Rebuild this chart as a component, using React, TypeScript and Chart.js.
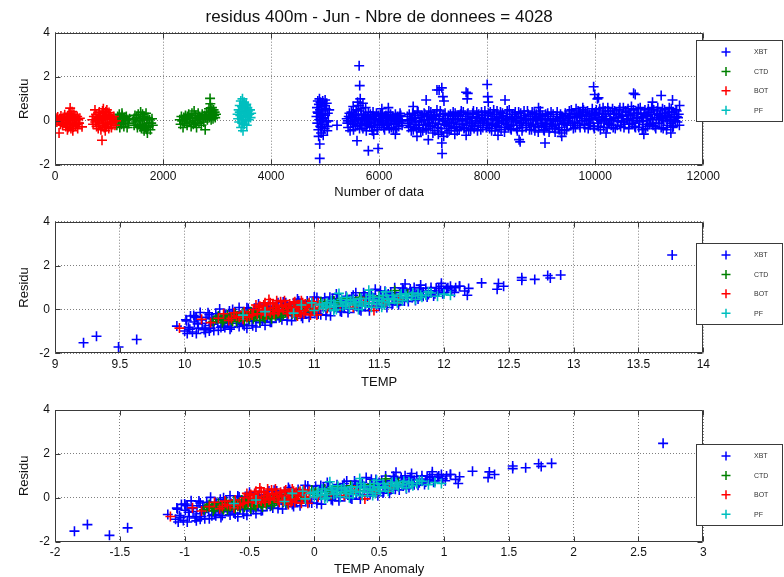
import React, { useEffect, useRef } from "react";
import { Chart, registerables } from "chart.js";

Chart.register(...registerables);

// ---------------- data ----------------
const CHART_TITLE = "residus 400m - Jun - Nbre de donnees = 4028";
const SERIES_NAMES = ["XBT", "CTD", "BOT", "PF"];
const SERIES_COLORS = ["#0000ff", "#008000", "#ff0000", "#00bfbf"];
const Y_TITLE = "Residu";
const Y_TICKS = [-2, 0, 2, 4];
const X_TITLES = ["Number of data", "TEMP", "TEMP Anomaly"];
// climatological temperature at 400m used for the anomaly panel
const TEMP_CLIMATOLOGY = 11.07;

// residu vs data number
const xbtByIndex: [number, number][] = [
  [4840, 0.2], [4850, 0.6], [4855, -0.1], [4865, 0.9], [4870, 0.35], [4875, -0.4], [4885, 0.75], [4890, 0.05],
  [4895, 1.0], [4900, -1.05], [4900, -1.7], [4905, 0.5], [4910, -0.25], [4915, 0.85], [4920, 0.15], [4925, -0.55],
  [4935, 0.65], [4940, 0.3], [4945, -0.15], [4955, 0.9], [4960, 0.45], [4965, -0.65], [4975, 0.1], [4985, 0.7],
  [4990, -0.35], [5000, 0.25], [5010, 0.55], [5020, -0.05], [5030, 0.8], [5040, -0.45], [5050, 0.35], [5060, 0.0],
  [5075, 0.5], [4880, -0.7], [4950, 0.0], [5000, 0.95], [5045, -0.25], [4860, 0.4], [4930, -0.3], [5220, -0.2],
  [5400, 0.1], [5425, -0.3], [5450, 0.35], [5475, -0.05], [5500, 0.2], [5525, -0.4], [5550, 0.05], [5575, 0.5],
  [5600, -0.2], [5625, 0.7], [5650, -0.1], [5675, 0.3], [5700, -0.35], [5725, 0.0], [5750, 0.25], [5775, -0.15],
  [5800, 0.4], [5825, -0.25], [5850, 0.1], [5875, -0.45], [5900, 0.2], [5925, -0.05], [5950, 0.35], [5975, -0.3],
  [6000, 0.05], [6025, 0.3], [6050, -0.2], [6075, 0.15], [6100, -0.4], [6125, 0.25], [6150, -0.1], [6175, 0.4],
  [6200, 0.0], [6225, -0.3], [6250, 0.2], [6275, -0.15], [6300, 0.3], [6325, -0.35], [6350, 0.1], [6375, -0.05],
  [6400, 0.25], [6425, -0.2],
  [5412, -0.1], [5437, 0.2], [5462, -0.45], [5487, 0.4], [5512, 0.0], [5537, 0.3], [5562, -0.25], [5587, 0.15],
  [5612, 0.45], [5637, -0.35], [5662, 0.55], [5687, 0.05], [5712, 0.3], [5737, -0.2], [5762, -0.45], [5787, 0.15],
  [5812, -0.05], [5837, 0.3], [5862, -0.3], [5887, 0.4], [5912, -0.2], [5937, 0.1], [5962, -0.4], [5987, 0.25],
  [6012, -0.15], [6037, 0.0], [6062, 0.35], [6087, -0.3], [6112, 0.1], [6137, -0.2], [6162, 0.15], [6187, -0.35],
  [6212, 0.3], [6237, 0.05], [6262, -0.4], [6287, 0.1], [6312, 0.0], [6337, 0.2], [6362, -0.25], [6387, 0.35], [6412, 0.0],
  [5420, 0.0], [5470, 0.15], [5520, -0.15], [5570, 0.25], [5620, 0.1], [5670, -0.2], [5720, 0.15], [5770, 0.05],
  [5820, -0.1], [5870, 0.2], [5920, 0.05], [5970, -0.15], [6020, 0.1], [6070, -0.05], [6120, 0.2], [6170, -0.15],
  [6220, 0.05], [6270, 0.15], [6320, -0.1], [6370, 0.2], [6420, 0.05],
  [5630, 2.5], [5640, 1.6], [5650, 1.0], [5600, 0.85], [5700, 0.8], [5590, -0.9], [5800, -1.35], [5980, -1.25],
  [6170, 0.6], [6300, -0.6], [5520, 0.65], [5750, 0.6], [5900, -0.6], [6050, 0.55],
  [6520, 0.2], [6545, -0.3], [6570, 0.05], [6595, -0.45], [6620, 0.35], [6645, -0.15], [6670, 0.1], [6695, -0.35],
  [6720, 0.4], [6745, -0.05], [6770, -0.5], [6795, 0.25], [6820, -0.2], [6845, 0.3], [6870, -0.4], [6895, 0.05],
  [6920, 0.45], [6945, -0.25], [6970, 0.15], [6995, -0.55], [7020, 0.3], [7045, -0.1], [7070, 0.5], [7095, -0.6],
  [7120, 0.2], [7145, -0.35], [7170, 0.0], [7195, -0.7], [7220, 0.35], [7245, -0.2], [7270, 0.1], [7295, -0.45],
  [7320, 0.3], [7345, -0.1], [7370, 0.4], [7395, -0.3], [7420, 0.05], [7445, -0.45], [7470, 0.25], [7495, -0.15],
  [7520, 0.45], [7545, 0.0], [7570, -0.35], [7595, 0.2], [7620, -0.2], [7645, 0.35], [7670, -0.05], [7695, -0.4],
  [7720, 0.15], [7745, 0.45], [7770, -0.25], [7795, 0.1], [7820, -0.45], [7845, 0.3], [7870, -0.1], [7895, 0.4],
  [7920, -0.3], [7945, 0.05], [7970, 0.25], [7995, -0.2],
  [8020, 0.35], [8045, -0.35], [8070, 0.1], [8095, -0.15], [8120, 0.5], [8145, -0.45], [8170, 0.2], [8195, 0.0],
  [8220, -0.3], [8245, 0.4], [8270, -0.1], [8295, 0.25], [8320, -0.5], [8345, 0.05], [8370, 0.45], [8395, -0.25],
  [8420, 0.15], [8445, -0.4], [8470, 0.3], [8495, -0.05], [8520, 0.4], [8545, -0.35], [8570, 0.1], [8595, -0.2],
  [8620, 0.35], [8645, -0.45], [8670, 0.0], [8695, 0.25], [8720, -0.3], [8745, 0.45], [8770, -0.1], [8795, 0.2],
  [8820, -0.4], [8845, 0.05], [8870, 0.35], [8895, -0.25], [8920, 0.15], [8945, -0.5], [8970, 0.3], [8995, -0.1],
  [9020, 0.25], [9045, -0.4], [9070, 0.05], [9095, -0.25], [9120, 0.35], [9145, -0.5], [9170, 0.1], [9195, -0.15],
  [9220, 0.3], [9245, -0.35], [9270, 0.0], [9295, 0.4], [9320, -0.3], [9345, 0.15], [9370, -0.55], [9395, 0.2],
  [9420, -0.1], [9445, 0.35], [9470, -0.4], [9495, 0.1],
  [9520, 0.45], [9545, -0.2], [9570, 0.3], [9595, -0.35], [9620, 0.15], [9645, 0.55], [9670, -0.1], [9695, 0.35],
  [9720, -0.3], [9745, 0.2], [9770, 0.6], [9795, -0.15], [9820, 0.4], [9845, 0.0], [9870, -0.35], [9895, 0.3],
  [9920, 0.1], [9945, 0.55], [9970, -0.25], [9995, 0.25], [10020, 0.5], [10045, -0.1], [10070, 0.35], [10095, -0.4],
  [10120, 0.15], [10145, 0.6], [10170, -0.05], [10195, 0.3], [10220, -0.3], [10245, 0.45], [10270, 0.05], [10295, -0.2],
  [10320, 0.55], [10345, 0.1], [10370, -0.35], [10395, 0.35], [10420, 0.0], [10445, 0.5], [10470, -0.25], [10495, 0.2],
  [10520, 0.6], [10545, -0.15], [10570, 0.4], [10595, 0.05], [10620, -0.35], [10645, 0.3], [10670, 0.65], [10695, -0.1],
  [10720, 0.35], [10745, -0.3], [10770, 0.15], [10795, 0.55], [10820, -0.05], [10845, 0.3], [10870, -0.4], [10895, 0.2],
  [10920, 0.5], [10945, 0.0], [10970, -0.25], [10995, 0.4], [11020, 0.1], [11045, 0.6], [11070, -0.2], [11095, 0.3],
  [11120, -0.35], [11145, 0.45], [11170, 0.05], [11195, 0.25], [11220, -0.3], [11245, 0.55], [11270, 0.0], [11295, 0.35],
  [11320, -0.4], [11345, 0.2], [11370, 0.6], [11395, -0.1], [11420, 0.4], [11445, -0.25], [11470, 0.15], [11495, 0.5],
  [11520, -0.05], [11545, 0.3], [11560, 0.7],
  [6532, -0.1], [6557, 0.3], [6582, -0.25], [6607, 0.1], [6632, -0.4], [6657, 0.25], [6682, -0.05], [6707, 0.45],
  [6732, -0.3], [6757, 0.15], [6782, 0.0], [6807, -0.45], [6832, 0.35], [6857, -0.15], [6882, 0.2], [6907, -0.35],
  [6932, 0.05], [6957, 0.4], [6982, -0.2], [7007, 0.1], [7032, -0.45], [7057, 0.25], [7082, -0.3], [7107, 0.05],
  [7132, 0.45], [7157, -0.5], [7182, 0.3], [7207, -0.15], [7232, 0.0], [7257, -0.55], [7282, 0.25], [7307, -0.1],
  [7332, -0.35], [7357, 0.2], [7382, -0.05], [7407, 0.35], [7432, -0.25], [7457, 0.1], [7482, -0.4], [7507, 0.3],
  [7532, -0.15], [7557, 0.4], [7582, -0.3], [7607, 0.05], [7632, 0.3], [7657, -0.45], [7682, 0.2], [7707, -0.1],
  [7732, 0.35], [7757, -0.35], [7782, 0.0], [7807, 0.4], [7832, -0.2], [7857, 0.1], [7882, -0.4], [7907, 0.25],
  [7932, -0.05], [7957, 0.45], [7982, -0.3],
  [8007, 0.1], [8032, -0.2], [8057, 0.4], [8082, -0.45], [8107, 0.05], [8132, 0.3], [8157, -0.25], [8182, 0.45],
  [8207, -0.1], [8232, 0.15], [8257, -0.4], [8282, 0.35], [8307, 0.0], [8332, -0.3], [8357, 0.2], [8382, -0.15],
  [8407, 0.5], [8432, -0.35], [8457, 0.1], [8482, -0.2], [8507, 0.3], [8532, 0.0], [8557, -0.45], [8582, 0.4],
  [8607, -0.1], [8632, 0.15], [8657, -0.3], [8682, 0.45], [8707, 0.05], [8732, -0.2], [8757, 0.3], [8782, -0.4],
  [8807, 0.1], [8832, 0.4], [8857, -0.15], [8882, -0.45], [8907, 0.3], [8932, 0.0], [8957, -0.3], [8982, 0.45],
  [9007, -0.2], [9032, 0.1], [9057, -0.45], [9082, 0.3], [9107, -0.1], [9132, 0.2], [9157, -0.35], [9182, 0.4],
  [9207, -0.25], [9232, 0.05], [9257, -0.5], [9282, 0.2], [9307, 0.0], [9332, -0.4], [9357, 0.3], [9382, -0.15],
  [9407, 0.1], [9432, -0.45], [9457, 0.25], [9482, -0.2], [9507, 0.0],
  [9532, 0.15], [9557, 0.5], [9582, -0.1], [9607, 0.35], [9632, -0.3], [9657, 0.2], [9682, 0.45], [9707, -0.2],
  [9732, 0.3], [9757, 0.0], [9782, 0.5], [9807, -0.3], [9832, 0.2], [9857, 0.45], [9882, 0.05], [9907, -0.2],
  [9932, 0.35], [9957, 0.1], [9982, -0.35], [10007, 0.4], [10032, 0.15], [10057, -0.25], [10082, 0.55], [10107, 0.0],
  [10132, 0.3], [10157, -0.3], [10182, 0.45], [10207, 0.1], [10232, 0.6], [10257, -0.15], [10282, 0.35], [10307, 0.0],
  [10332, -0.3], [10357, 0.45], [10382, 0.15], [10407, -0.2], [10432, 0.3], [10457, 0.6], [10482, -0.05], [10507, 0.25],
  [10532, -0.3], [10557, 0.45], [10582, 0.1], [10607, 0.55], [10632, -0.15], [10657, 0.25], [10682, 0.0], [10707, 0.5],
  [10732, -0.25], [10757, 0.35], [10782, 0.1], [10807, -0.3], [10832, 0.6], [10857, 0.15], [10882, -0.15], [10907, 0.35],
  [10932, -0.35], [10957, 0.25], [10982, 0.55], [11007, -0.15], [11032, 0.3], [11057, 0.05], [11082, 0.5], [11107, -0.25],
  [11132, 0.15], [11157, 0.6], [11182, -0.1], [11207, 0.35], [11232, 0.1], [11257, -0.35], [11282, 0.5], [11307, 0.15],
  [11332, -0.2], [11357, 0.4], [11382, 0.05], [11407, 0.55], [11432, -0.3], [11457, 0.3], [11482, 0.0], [11507, 0.45],
  [11532, 0.15], [11557, -0.2],
  [6560, 0.0], [6650, 0.15], [6740, -0.2], [6830, 0.05], [6920, -0.1], [7010, 0.2], [7100, -0.15], [7190, 0.1],
  [7280, -0.25], [7370, 0.05], [7460, 0.2], [7550, -0.15], [7640, 0.1], [7730, -0.2], [7820, 0.15], [7910, 0.0],
  [8000, -0.1], [8090, 0.2], [8180, -0.2], [8270, 0.1], [8360, -0.15], [8450, 0.05], [8540, 0.2], [8630, -0.1],
  [8720, 0.1], [8810, -0.2], [8900, 0.05], [8990, 0.2], [9080, -0.15], [9170, 0.0], [9260, -0.2], [9350, 0.1],
  [9440, -0.1], [9530, 0.2], [9620, -0.05], [9710, 0.25], [9800, 0.1], [9890, -0.1], [9980, 0.3], [10070, 0.05],
  [10160, 0.2], [10250, -0.1], [10340, 0.3], [10430, 0.15], [10520, -0.05], [10610, 0.25], [10700, 0.1], [10790, 0.35],
  [10880, 0.0], [10970, 0.2], [11060, -0.1], [11150, 0.3], [11240, 0.1], [11330, 0.25], [11420, 0.0], [11510, 0.2],
  [6630, 0.65], [6870, 0.95], [7070, 1.4], [7110, 1.4], [7160, 1.5], [7180, 1.1], [7200, 0.9], [7610, 1.3],
  [7640, 1.25], [7630, 1.0], [8000, 1.65], [8010, 1.1], [8020, 0.85], [8330, 0.95], [8950, 0.6], [9970, 1.55],
  [9990, 1.2], [10040, 1.0], [10060, 1.05], [10710, 1.25], [10740, 1.2], [11060, 0.85], [11220, 1.15], [11430, 0.95],
  [6910, -0.85], [7160, -1.0], [7165, -1.48], [7610, -0.65], [8590, -0.85], [8610, -0.95], [9070, -1.0], [9380, -0.7],
  [11400, -0.55], [6700, -0.7], [7400, -0.6], [8200, -0.65], [10200, -0.55], [10900, -0.6],
];

const ctdByIndex: [number, number][] = [
  [1130, 0.05], [1145, -0.2], [1160, 0.2], [1175, -0.05], [1190, 0.3], [1200, -0.3], [1215, 0.1], [1230, -0.15],
  [1245, 0.25], [1260, 0.0], [1275, -0.25], [1290, 0.15], [1305, -0.1], [1320, 0.2], [1335, -0.3], [1350, 0.05],
  [1365, -0.12], [1380, 0.1], [1240, 0.35], [1200, 0.15],
  [1450, 0.05], [1465, -0.2], [1480, 0.25], [1495, -0.05], [1510, 0.15], [1525, -0.3], [1540, 0.3], [1555, 0.0],
  [1570, -0.15], [1585, 0.4], [1600, -0.35], [1610, 0.1], [1625, -0.2], [1640, 0.2], [1650, -0.45], [1660, 0.05],
  [1675, -0.3], [1685, 0.35], [1700, -0.1], [1710, -0.55], [1720, 0.15], [1735, -0.25], [1750, 0.05], [1765, -0.4],
  [1780, -0.1], [1795, 0.1], [1810, -0.2], [1620, 0.3], [1700, -0.38], [1580, -0.25],
  [2310, 0.05], [2325, -0.15], [2340, 0.2], [2355, 0.0], [2370, -0.3], [2385, 0.15], [2400, -0.1], [2415, 0.25],
  [2430, 0.05], [2445, -0.2], [2460, 0.1], [2475, 0.3], [2490, -0.05], [2505, 0.15], [2520, -0.25], [2535, 0.35],
  [2550, 0.1], [2560, -0.15], [2575, 0.45], [2590, 0.0], [2605, 0.25], [2620, -0.3], [2635, 0.15], [2650, 0.35],
  [2665, -0.1], [2680, 0.2], [2695, 0.05], [2710, -0.2], [2725, 0.3], [2740, 0.1], [2755, -0.05], [2770, 0.25],
  [2780, -0.4], [2790, 0.15], [2805, 0.4], [2820, 0.05], [2835, 0.3], [2850, 0.55], [2860, 0.15], [2870, 1.02],
  [2875, 0.78], [2885, 0.45], [2895, 0.2], [2905, 0.6], [2915, 0.35], [2925, 0.1], [2935, 0.5], [2945, 0.25],
  [2955, 0.4], [2965, 0.15], [2980, 0.3], [2890, 0.05], [2600, -0.1], [2450, 0.2],
];

const botByIndex: [number, number][] = [
  [20, 0.12], [35, -0.05], [50, 0.18], [60, 0.02], [75, -0.55], [85, 0.1], [100, -0.15], [110, 0.22], [125, 0.05],
  [140, -0.2], [150, 0.15], [165, -0.08], [180, 0.28], [190, 0.0], [200, -0.25], [210, 0.1], [220, -0.12], [230, 0.2],
  [240, -0.3], [250, 0.05], [260, 0.35], [270, -0.18], [280, 0.58], [285, 0.0], [295, -0.35], [305, 0.25], [315, 0.42],
  [320, -0.1], [330, 0.12], [340, -0.28], [350, 0.3], [360, -0.05], [370, 0.18], [380, -0.22], [390, 0.08], [400, -0.15],
  [410, 0.2], [420, -0.35], [430, 0.05], [445, -0.1], [500, -0.27], [460, 0.12], [230, -0.4], [330, -0.45], [270, 0.3],
  [690, 0.05], [705, -0.15], [720, 0.2], [740, 0.5], [745, -0.05], [760, 0.3], [770, -0.25], [785, 0.1], [800, -0.35],
  [810, 0.15], [820, 0.4], [830, -0.1], [840, 0.25], [850, -0.4], [860, 0.05], [870, -0.88], [875, 0.35], [885, -0.2],
  [895, 0.55], [900, 0.1], [910, -0.3], [920, 0.2], [930, -0.05], [940, 0.42], [950, -0.25], [960, 0.5], [965, 0.1],
  [975, -0.15], [985, 0.3], [995, -0.35], [1005, 0.05], [1015, 0.25], [1025, -0.1], [1035, 0.15], [1045, -0.3],
  [1060, 0.1], [1075, -0.05], [1090, 0.2], [1110, -0.2], [1130, 0.0], [800, 0.0], [880, 0.45], [930, -0.45], [1000, 0.38],
];

const pfByIndex: [number, number][] = [
  [3380, 0.3], [3390, 0.1], [3400, 0.5], [3410, -0.05], [3420, 0.7], [3430, 0.25], [3440, 0.9], [3445, -0.3],
  [3455, 0.45], [3460, 0.05], [3470, 1.0], [3475, 0.6], [3480, -0.45], [3485, 0.2], [3495, 0.8], [3500, 0.35],
  [3505, -0.15], [3515, 0.55], [3520, 0.0], [3530, 0.7], [3535, 0.15], [3545, 0.4], [3550, -0.2], [3560, 0.6],
  [3565, 0.25], [3575, 0.45], [3585, 0.05], [3595, 0.3], [3610, 0.5], [3620, 0.15], [3630, 0.35], [3460, 0.65],
  [3500, 0.85], [3540, 0.75], [3420, 0.4], [3470, -0.1],
];

// residu vs temperature
const xbtByTemp: [number, number][] = [
  [10.0, -0.98], [10.015, -0.52], [10.03, -0.81], [10.045, -0.3], [10.06, -1.03], [10.075, -0.57], [10.09, -0.36],
  [10.105, -0.85], [10.12, -0.14], [10.135, -0.63], [10.15, -0.92], [10.165, -0.36], [10.18, -0.15], [10.195, -0.73],
  [10.21, -0.42], [10.225, -0.96], [10.24, -0.2], [10.255, -0.59], [10.27, 0.02], [10.285, -0.47], [10.3, -0.76],
  [10.315, -0.29], [10.33, -0.58], [10.345, -0.07], [10.36, -0.81], [10.375, -0.35], [10.39, -0.14], [10.405, -0.63],
  [10.42, 0.09], [10.435, -0.4], [10.45, -0.69], [10.465, -0.13], [10.48, 0.08], [10.495, -0.51], [10.51, -0.2],
  [10.525, -0.74], [10.54, 0.03], [10.555, -0.36], [10.57, 0.25], [10.585, -0.24], [10.6, -0.53], [10.615, -0.07],
  [10.63, -0.36], [10.645, 0.15], [10.66, -0.59], [10.675, -0.12], [10.69, 0.09], [10.705, -0.4], [10.72, 0.31],
  [10.735, -0.18], [10.75, -0.47], [10.765, 0.09], [10.78, 0.31], [10.795, -0.28], [10.81, 0.03], [10.825, -0.51],
  [10.84, 0.25], [10.855, -0.14], [10.87, 0.47], [10.885, -0.02], [10.9, -0.31], [10.915, 0.16], [10.93, -0.13],
  [10.945, 0.38], [10.96, -0.36], [10.975, 0.1], [10.99, 0.31], [11.005, -0.18], [11.02, 0.54], [11.035, 0.05],
  [11.05, -0.24], [11.065, 0.32], [11.08, 0.53], [11.095, -0.06], [11.11, 0.25], [11.125, -0.29], [11.14, 0.48],
  [11.155, 0.09], [11.17, 0.7], [11.185, 0.21], [11.2, -0.08], [11.215, 0.38], [11.23, 0.09], [11.245, 0.6],
  [11.26, -0.14], [11.275, 0.33], [11.29, 0.54], [11.305, 0.05], [11.32, 0.76], [11.335, 0.27], [11.35, -0.02],
  [11.365, 0.54], [11.38, 0.76], [11.395, 0.17], [11.41, 0.48], [11.425, -0.06], [11.44, 0.7], [11.455, 0.31],
  [11.47, 0.92], [11.485, 0.43], [11.5, 0.15], [11.515, 0.61], [11.53, 0.32], [11.545, 0.83], [11.56, 0.09],
  [11.575, 0.55], [11.59, 0.76], [11.605, 0.27], [11.62, 0.99], [11.635, 0.5], [11.65, 0.21], [11.665, 0.77],
  [11.68, 0.98], [11.695, 0.39], [11.71, 0.7], [11.725, 0.36], [11.74, 0.93], [11.755, 0.54], [11.77, 1.0],
  [11.785, 0.66], [11.8, 0.47], [11.82, 0.84], [11.84, 0.6], [11.86, 0.97], [11.88, 0.68], [11.9, 0.85],
  [11.92, 0.61], [11.94, 0.98], [11.96, 0.84], [11.98, 1.06], [12.0, 0.77], [12.03, 0.99], [12.06, 0.87],
  [12.09, 0.99], [12.12, 1.06], [12.16, 0.84],
  [10.01, -0.47], [10.04, -0.9], [10.07, -0.28], [10.1, -0.66], [10.13, -0.48], [10.16, -0.86], [10.19, -0.24],
  [10.22, -0.67], [10.25, -0.34], [10.28, -0.82], [10.31, -0.2], [10.34, -0.63], [10.37, 0.0], [10.4, -0.48],
  [10.43, -0.26], [10.46, -0.74], [10.49, 0.04], [10.52, -0.54], [10.55, -0.07], [10.58, -0.6], [10.61, 0.18],
  [10.64, -0.35], [10.67, -0.58], [10.7, -0.01], [10.73, -0.38], [10.76, 0.34], [10.79, -0.49], [10.82, 0.14],
  [10.85, -0.29], [10.88, 0.38], [10.91, -0.4], [10.94, 0.08], [10.97, -0.15], [11.0, 0.57], [11.03, -0.21],
  [11.06, 0.27], [11.09, -0.26], [11.12, 0.56], [11.15, 0.03], [11.18, 0.46], [11.21, -0.12], [11.24, 0.4],
  [11.27, 0.02], [11.3, 0.65], [11.33, 0.22], [11.36, -0.06], [11.39, 0.61], [11.42, 0.14], [11.45, 0.51],
  [11.48, 0.08], [11.51, 0.85], [11.54, 0.33], [11.57, 0.7], [11.6, 0.22], [11.63, 0.59], [11.66, 0.37],
  [11.69, 0.89], [11.72, 0.51], [11.75, 0.78], [11.78, 0.41], [11.81, 0.93], [11.84, 0.8], [11.87, 0.57],
  [11.9, 1.0], [11.93, 0.72], [11.96, 0.94], [11.99, 0.71], [12.02, 0.94], [12.05, 1.06], [12.08, 0.78],
  [9.22, -1.52], [9.32, -1.22], [9.49, -1.71], [9.63, -1.37], [9.94, -0.76], [10.02, -1.1], [10.08, -0.34],
  [10.09, -1.1], [10.16, -1.05], [10.19, -0.98], [10.31, -0.82], [10.35, -0.9], [10.42, -0.78], [10.48, -0.86],
  [10.55, -0.8], [10.62, -0.72], [10.2, -0.85], [10.26, -0.95],
  [13.76, 2.48], [12.9, 1.57], [12.8, 1.55], [12.82, 1.43], [12.7, 1.37], [12.6, 1.45], [12.6, 1.33], [12.46, 1.06],
  [12.42, 1.18], [12.41, 0.92], [12.29, 1.21], [12.19, 0.96], [12.18, 0.65], [12.12, 1.06], [11.98, 1.19],
  [11.82, 1.11], [11.7, 1.16],
];

const ctdByTemp: [number, number][] = [
  [10.22, -0.55], [10.26, -0.3], [10.3, -0.5], [10.33, -0.25], [10.36, -0.48], [10.39, -0.2], [10.42, -0.42],
  [10.45, -0.15], [10.48, -0.38], [10.51, -0.1], [10.54, -0.33], [10.57, -0.05], [10.6, -0.3], [10.63, -0.02],
  [10.66, -0.28], [10.69, 0.05], [10.72, -0.2], [10.75, 0.1], [10.78, -0.15], [10.81, 0.12], [10.84, -0.1],
  [10.87, 0.2], [10.9, -0.05], [10.95, 0.25], [11.0, 0.0], [11.05, 0.35], [11.1, 0.1], [11.15, 0.4], [11.2, 0.15],
  [11.25, 0.5], [11.3, 0.25], [11.35, 0.55], [11.42, 0.3], [11.5, 0.6], [11.62, 0.86], [11.65, 0.45], [11.72, 0.7],
  [10.35, -0.35], [10.44, -0.28], [10.5, -0.45], [10.55, -0.2], [10.62, -0.4], [10.68, -0.15], [10.74, -0.35],
  [10.8, -0.05], [10.86, -0.25], [10.92, 0.1], [10.4, -0.55], [10.58, -0.5], [10.28, -0.4], [10.7, -0.3],
  [10.24, -0.45], [10.29, -0.6], [10.32, -0.38], [10.37, -0.55], [10.41, -0.3], [10.46, -0.5], [10.49, -0.22],
  [10.53, -0.42], [10.56, -0.15], [10.61, -0.35], [10.64, -0.1], [10.67, -0.42], [10.71, -0.08], [10.76, -0.25],
  [10.79, 0.05], [10.83, -0.2], [10.88, 0.0], [10.97, -0.1], [11.08, 0.25], [11.18, 0.3],
];

const botByTemp: [number, number][] = [
  [9.96, -0.85], [10.13, -0.45], [10.2, -0.6], [10.26, -0.4], [10.3, -0.2], [10.34, -0.5], [10.38, -0.15],
  [10.42, -0.35], [10.46, -0.1], [10.5, -0.3], [10.53, 0.0], [10.56, -0.2], [10.58, 0.15], [10.6, -0.05],
  [10.62, 0.3], [10.64, 0.05], [10.66, -0.15], [10.68, 0.25], [10.7, 0.1], [10.72, -0.1], [10.74, 0.35],
  [10.76, 0.0], [10.78, 0.2], [10.8, -0.2], [10.82, 0.05], [10.84, 0.3], [10.86, -0.1], [10.88, 0.15], [10.9, 0.4],
  [10.92, -0.2], [10.94, 0.1], [10.96, 0.3], [10.98, -0.05], [11.0, 0.2], [11.02, -0.25], [11.04, 0.05],
  [10.63, -0.25], [10.71, 0.4], [10.87, -0.3], [10.93, 0.25], [10.65, 0.45], [11.1, 0.05], [11.2, 0.15],
  [11.3, 0.1], [11.38, 0.35], [11.46, -0.05], [11.55, 0.3], [11.65, 0.45], [10.45, -0.45], [10.55, 0.2],
  [10.57, 0.1], [10.59, -0.2], [10.61, 0.2], [10.63, 0.05], [10.66, 0.3], [10.69, -0.2], [10.71, 0.2],
  [10.73, -0.05], [10.75, 0.15], [10.77, 0.4], [10.79, -0.1], [10.81, 0.25], [10.83, -0.15], [10.85, 0.35],
  [10.87, 0.05], [10.89, -0.2], [10.91, 0.3], [10.93, -0.05], [10.95, 0.2], [10.97, -0.25], [10.99, 0.35],
  [11.01, 0.05], [11.03, 0.3], [10.52, -0.25], [10.48, -0.35], [10.4, -0.3], [10.36, -0.4], [10.68, -0.05],
  [10.8, 0.1], [10.9, -0.15],
];

const pfByTemp: [number, number][] = [
  [10.45, -0.26], [10.62, -0.1], [10.84, -0.17], [10.9, 0.2], [10.98, 0.3], [11.0, -0.05], [11.04, 0.2], [11.07, 0.05],
  [11.1, 0.3], [11.12, 0.1], [11.15, 0.25], [11.17, 0.0], [11.2, 0.35], [11.22, 0.15], [11.25, 0.3], [11.27, 0.05],
  [11.3, 0.45], [11.32, 0.2], [11.35, 0.35], [11.37, 0.15], [11.4, 0.5], [11.42, 0.3], [11.44, 0.1], [11.46, 0.42],
  [11.48, 0.25], [11.5, 0.55], [11.52, 0.35], [11.54, 0.2], [11.56, 0.5], [11.58, 0.3], [11.6, 0.65], [11.62, 0.45],
  [11.64, 0.3], [11.66, 0.6], [11.68, 0.4], [11.7, 0.7], [11.72, 0.5], [11.75, 0.6], [11.78, 0.45], [11.8, 0.72],
  [11.83, 0.55], [11.86, 0.65], [11.9, 0.75], [11.95, 0.6], [12.0, 0.7], [12.05, 0.65], [11.25, 0.55], [11.43, 0.65],
  [11.55, 0.8], [11.15, -0.05], [11.34, 0.0], [11.52, 0.1], [11.42, 0.88], [11.19, 0.73],
  [11.06, 0.25], [11.09, 0.15], [11.13, 0.4], [11.16, 0.15], [11.21, 0.45], [11.24, 0.2], [11.28, 0.4], [11.31, 0.3],
  [11.36, 0.5], [11.39, 0.25], [11.45, 0.55], [11.5, 0.4], [11.53, 0.65], [11.57, 0.45], [11.61, 0.5], [11.67, 0.7],
  [11.71, 0.6], [11.76, 0.75], [11.82, 0.65], [11.88, 0.8],
];

// ---------------- chart setup ----------------
const FONT = '"Liberation Sans", Arial, Helvetica, sans-serif';
const TEXT_COLOR = "#111111";
const FRAME_COLOR = "#3a3a3a";

type Pair = [number, number];

const toPoints = (arr: Pair[], xShift = 0) => arr.map(([x, y]) => ({ x: x - xShift, y }));

const anomaly = (arr: Pair[]) => toPoints(arr, TEMP_CLIMATOLOGY);

interface PanelSpec {
  top: number;
  height: number;
  areaTop: number;
  areaBottom: number;
  title?: string;
  xTitle: string;
  xMin: number;
  xMax: number;
  xStep: number;
  legendTop: number;
  series: { x: number; y: number }[][];
}

const PANELS: PanelSpec[] = [
  {
    top: 0, height: 200, areaTop: 32.7, areaBottom: 165, title: CHART_TITLE, xTitle: X_TITLES[0],
    xMin: 0, xMax: 12000, xStep: 2000, legendTop: 40.2,
    series: [toPoints(xbtByIndex), toPoints(ctdByIndex), toPoints(botByIndex), toPoints(pfByIndex)],
  },
  {
    top: 200, height: 190, areaTop: 21.7, areaBottom: 153.3, xTitle: X_TITLES[1],
    xMin: 9, xMax: 14, xStep: 0.5, legendTop: 42.7,
    series: [toPoints(xbtByTemp), toPoints(ctdByTemp), toPoints(botByTemp), toPoints(pfByTemp)],
  },
  {
    top: 390, height: 187, areaTop: 20, areaBottom: 151.7, xTitle: X_TITLES[2],
    xMin: -2, xMax: 3, xStep: 0.5, legendTop: 54,
    series: [anomaly(xbtByTemp), anomaly(ctdByTemp), anomaly(botByTemp), anomaly(pfByTemp)],
  },
];

const CANVAS_W = 784;
const AREA_LEFT = 55;
const AREA_RIGHT = 703.3;

const framePlugin = {
  id: "matlabFrame",
  afterDatasetsDraw(chart: any, _args: any, opts: any) {
    const { ctx, chartArea: a, scales } = chart;
    ctx.save();
    const l = Math.round(a.left) + 0.5;
    const t = Math.round(a.top) + 0.5;
    const r = Math.round(a.right) - 0.5;
    const b = Math.round(a.bottom) - 0.5;
    ctx.strokeStyle = FRAME_COLOR;
    ctx.lineWidth = 1;
    ctx.setLineDash([]);
    ctx.beginPath();
    ctx.rect(l, t, r - l, b - t);
    const tl = 5;
    for (const tk of scales.x.ticks) {
      const px = Math.round(scales.x.getPixelForValue(tk.value)) + 0.5;
      ctx.moveTo(px, b); ctx.lineTo(px, b - tl);
      ctx.moveTo(px, t); ctx.lineTo(px, t + tl);
    }
    for (const tk of scales.y.ticks) {
      const py = Math.round(scales.y.getPixelForValue(tk.value)) + 0.5;
      ctx.moveTo(l, py); ctx.lineTo(l + tl, py);
      ctx.moveTo(r, py); ctx.lineTo(r - tl, py);
    }
    ctx.stroke();

    // legend box
    const lx = 696.5;
    const ly = Math.round(opts.top) + 0.5;
    const lw = 86;
    const lh = 81;
    ctx.fillStyle = "#ffffff";
    ctx.fillRect(lx, ly, lw, lh);
    ctx.strokeStyle = FRAME_COLOR;
    ctx.strokeRect(lx, ly, lw, lh);
    chart.data.datasets.forEach((ds: any, i: number) => {
      const cy = ly + 11.5 + i * 19.4;
      const cx = lx + 29.5;
      ctx.strokeStyle = ds.borderColor;
      ctx.lineWidth = 1.5;
      ctx.beginPath();
      ctx.moveTo(cx - 4.5, cy); ctx.lineTo(cx + 4.5, cy);
      ctx.moveTo(cx, cy - 4.5); ctx.lineTo(cx, cy + 4.5);
      ctx.stroke();
      ctx.fillStyle = "#333333";
      ctx.font = `7px ${FONT}`;
      ctx.textBaseline = "middle";
      ctx.textAlign = "left";
      ctx.fillText(ds.label, lx + 57.5, cy + 0.5);
    });
    ctx.restore();
  },
};

function Panel({ spec }: { spec: PanelSpec }) {
  const ref = useRef<HTMLCanvasElement | null>(null);
  useEffect(() => {
    if (!ref.current) return;
    const titleH = spec.title ? spec.areaTop : 0;
    const chart = new Chart(ref.current, {
      type: "scatter",
      data: {
        datasets: SERIES_NAMES.map((name, i) => ({
          label: name,
          data: spec.series[i],
          borderColor: SERIES_COLORS[i],
          backgroundColor: SERIES_COLORS[i],
          pointStyle: "cross",
          pointRadius: 5,
          pointHoverRadius: 5,
          pointBorderWidth: 1.6,
          borderWidth: 1.6,
          order: SERIES_NAMES.length - i,
        })),
      },
      options: {
        responsive: false,
        animation: false,
        events: [],
        devicePixelRatio: 1,
        layout: {
          padding: {
            top: spec.title ? 0 : spec.areaTop,
            left: 0,
            right: CANVAS_W - AREA_RIGHT,
            bottom: 0,
          },
        },
        plugins: {
          legend: { display: false },
          tooltip: { enabled: false },
          title: {
            display: !!spec.title,
            text: spec.title || "",
            fullSize: false,
            color: TEXT_COLOR,
            font: { family: FONT, size: 17, weight: "normal", lineHeight: 1.2 },
            padding: { top: 7, bottom: titleH - 7 - 20.4 },
          },
          matlabFrame: { top: spec.legendTop },
        } as any,
        scales: {
          x: {
            type: "linear",
            position: "bottom",
            min: spec.xMin,
            max: spec.xMax,
            afterFit: (s: any) => { s.height = spec.height - spec.areaBottom; },
            ticks: {
              stepSize: spec.xStep,
              padding: 4,
              color: TEXT_COLOR,
              font: { family: FONT, size: 12 },
              maxRotation: 0,
              autoSkip: false,
              callback: (v: any) => String(v),
            },
            grid: { color: "rgba(0,0,0,0.5)", lineWidth: 1, drawTicks: false },
            border: { display: false, dash: [1, 2] },
            title: {
              display: true,
              text: spec.xTitle,
              color: TEXT_COLOR,
              font: { family: FONT, size: 13 },
              padding: { top: 0, bottom: 0 },
            },
          },
          y: {
            type: "linear",
            min: -2,
            max: 4,
            afterFit: (s: any) => { s.width = AREA_LEFT; },
            afterBuildTicks: (s: any) => { s.ticks = Y_TICKS.map((v) => ({ value: v })); },
            ticks: {
              padding: 5,
              color: TEXT_COLOR,
              font: { family: FONT, size: 12 },
              callback: (v: any) => String(v),
            },
            grid: { color: "rgba(0,0,0,0.5)", lineWidth: 1, drawTicks: false },
            border: { display: false, dash: [1, 2] },
            title: {
              display: true,
              text: Y_TITLE,
              color: TEXT_COLOR,
              font: { family: FONT, size: 13 },
              padding: { top: 17, bottom: 0 },
            },
          },
        },
      } as any,
      plugins: [framePlugin],
    });
    return () => chart.destroy();
  }, [spec]);
  return (
    <canvas
      ref={ref}
      width={CANVAS_W}
      height={spec.height}
      style={{ position: "absolute", left: 0, top: spec.top, width: CANVAS_W, height: spec.height, display: "block" }}
    />
  );
}

export default function App() {
  return (
    <div
      style={{
        position: "fixed",
        left: 0,
        top: 0,
        width: CANVAS_W,
        height: 577,
        background: "#ffffff",
        overflow: "hidden",
      }}
    >
      {PANELS.map((p, i) => (
        <Panel key={i} spec={p} />
      ))}
    </div>
  );
}
